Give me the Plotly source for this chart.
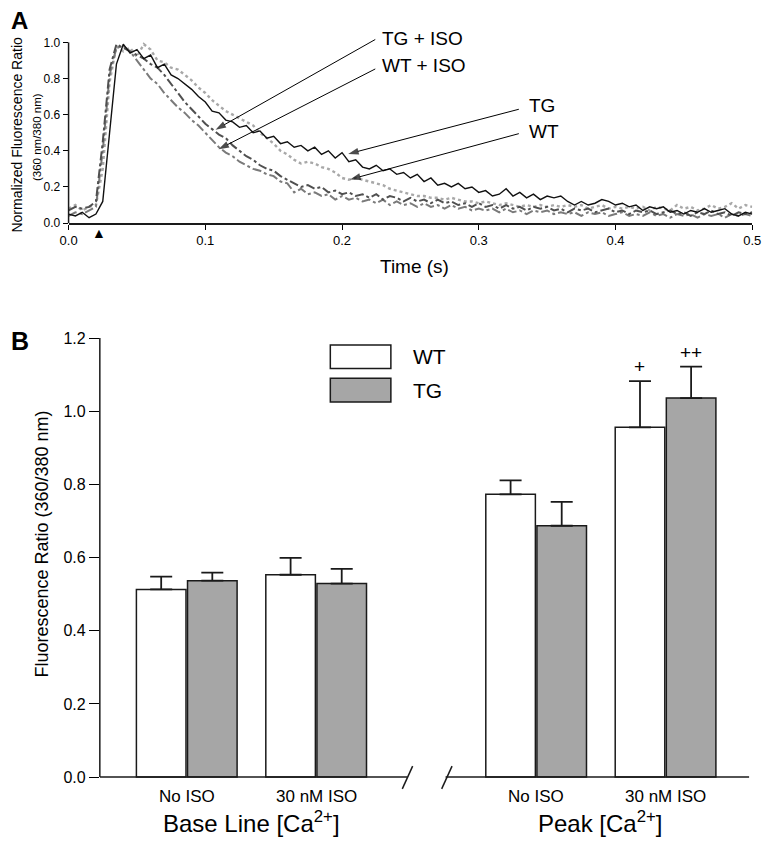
import plotly.graph_objects as go

# ---------------- Panel A data (normalized fluorescence ratio vs time) ----------------
TIME_S = [round(i * 0.005, 3) for i in range(101)]

TG = [0.05, 0.04, 0.06, 0.03, 0.05, 0.12, 0.50, 0.88, 0.99, 0.94,
      0.96, 0.91, 0.93, 0.86, 0.88, 0.82, 0.80, 0.77, 0.74, 0.70,
      0.67, 0.62, 0.61, 0.57, 0.56, 0.53, 0.54, 0.50, 0.51, 0.47,
      0.48, 0.44, 0.45, 0.42, 0.43, 0.40, 0.42, 0.38, 0.40, 0.36,
      0.39, 0.34, 0.35, 0.31, 0.30, 0.32, 0.29, 0.30, 0.27, 0.28,
      0.25, 0.27, 0.23, 0.25, 0.21, 0.22, 0.20, 0.22, 0.19, 0.20,
      0.17, 0.18, 0.15, 0.16, 0.19, 0.15, 0.17, 0.14, 0.16, 0.13,
      0.15, 0.14, 0.15, 0.12, 0.10, 0.12, 0.10, 0.11, 0.13, 0.12,
      0.10, 0.11, 0.09, 0.10, 0.07, 0.09, 0.08, 0.09, 0.06, 0.07,
      0.05, 0.07, 0.06, 0.08, 0.06, 0.07, 0.08, 0.05, 0.04, 0.06,
      0.05]

WT = [0.08, 0.10, 0.07, 0.09, 0.10, 0.30, 0.78, 0.98, 0.95, 0.97,
      0.92, 0.99, 0.96, 0.90, 0.89, 0.86, 0.85, 0.82, 0.79, 0.75,
      0.72, 0.68, 0.65, 0.62, 0.60, 0.58, 0.56, 0.54, 0.50, 0.47,
      0.44, 0.40, 0.38, 0.35, 0.33, 0.34, 0.33, 0.31, 0.30, 0.28,
      0.25, 0.24, 0.25, 0.24, 0.23, 0.22, 0.21, 0.19, 0.18, 0.17,
      0.16, 0.15, 0.15, 0.14, 0.14, 0.13, 0.14, 0.13, 0.12, 0.12,
      0.11, 0.12, 0.11, 0.10, 0.11, 0.10, 0.09, 0.10, 0.09, 0.10,
      0.09, 0.10, 0.09, 0.10, 0.09, 0.10, 0.08, 0.09, 0.10, 0.08,
      0.09, 0.08, 0.09, 0.08, 0.09, 0.07, 0.09, 0.08, 0.07, 0.10,
      0.08, 0.09, 0.07, 0.08, 0.10, 0.08, 0.09, 0.11, 0.08, 0.10,
      0.09]

TG_ISO = [0.07, 0.09, 0.08, 0.09, 0.12, 0.45, 0.85, 0.99, 0.97, 0.95,
          0.93, 0.91, 0.88, 0.86, 0.82, 0.77, 0.72, 0.67, 0.63, 0.59,
          0.55, 0.52, 0.49, 0.47, 0.43, 0.40, 0.37, 0.35, 0.32, 0.30,
          0.29, 0.26, 0.24, 0.22, 0.20, 0.21, 0.19, 0.20, 0.17, 0.18,
          0.16, 0.17, 0.15, 0.16, 0.14, 0.16, 0.13, 0.15, 0.14, 0.12,
          0.14, 0.12, 0.13, 0.11, 0.13, 0.11, 0.12, 0.10, 0.11, 0.09,
          0.11, 0.09, 0.10, 0.08, 0.10, 0.08, 0.09, 0.07, 0.09, 0.08,
          0.09, 0.07, 0.08, 0.06, 0.08, 0.07, 0.08, 0.06, 0.07, 0.08,
          0.06, 0.07, 0.05, 0.07, 0.06, 0.07, 0.05, 0.06, 0.07, 0.05,
          0.06, 0.04, 0.06, 0.05, 0.07, 0.05, 0.06, 0.04, 0.06, 0.05,
          0.06]

WT_ISO = [0.04, 0.06, 0.05, 0.07, 0.09, 0.40, 0.82, 0.97, 0.98, 0.95,
          0.90, 0.85, 0.80, 0.77, 0.72, 0.68, 0.64, 0.61, 0.57, 0.54,
          0.50, 0.46, 0.42, 0.39, 0.37, 0.34, 0.32, 0.30, 0.29, 0.27,
          0.26, 0.23, 0.22, 0.17, 0.19, 0.16, 0.17, 0.15, 0.16, 0.13,
          0.15, 0.13, 0.14, 0.12, 0.13, 0.11, 0.13, 0.10, 0.12, 0.10,
          0.11, 0.09, 0.11, 0.09, 0.10, 0.08, 0.10, 0.08, 0.09, 0.07,
          0.08, 0.07, 0.08, 0.06, 0.08, 0.06, 0.07, 0.05, 0.07, 0.06,
          0.07, 0.05, 0.06, 0.05, 0.06, 0.04, 0.06, 0.05, 0.06, 0.04,
          0.05, 0.06, 0.04, 0.05, 0.04, 0.06, 0.04, 0.05, 0.03, 0.05,
          0.04, 0.05, 0.03, 0.05, 0.04, 0.05, 0.03, 0.05, 0.04, 0.05,
          0.04]

A_XTICKS = [0.0, 0.1, 0.2, 0.3, 0.4, 0.5]
A_YTICKS = [0.0, 0.2, 0.4, 0.6, 0.8, 1.0]
STIM_TIME = 0.022

# ---------------- Panel B data (fluorescence ratio, mean + SEM) ----------------
GROUP_LABELS = ["No ISO", "30 nM ISO", "No ISO", "30 nM ISO"]
GROUP_POS = [0.0, 1.0, 2.7, 3.7]
SECTION_LABELS = ["Base Line [Ca<sup>2+</sup>]", "Peak [Ca<sup>2+</sup>]"]
WT_MEAN = [0.513, 0.553, 0.773, 0.956]
WT_SEM = [0.035, 0.046, 0.038, 0.126]
TG_MEAN = [0.537, 0.529, 0.687, 1.036]
TG_SEM = [0.022, 0.040, 0.065, 0.086]
WT_MARK = ["", "", "", "+"]
TG_MARK = ["", "", "", "++"]
B_YTICKS = [0.0, 0.2, 0.4, 0.6, 0.8, 1.0, 1.2]

assert all(len(s) == len(TIME_S) for s in (TG, WT, TG_ISO, WT_ISO))

# ---------------- layout helpers ----------------
W, H = 771, 846
FONT = "Liberation Sans, Arial, Helvetica, sans-serif"


def fx(p):
    return p / W


def fy(p):
    return 1 - p / H


# Panel A axes: x 0..0.5 over px 61..761; y 0..1 over px 219..35
A_YMAX = 1.03
A_Y0, A_Y1 = 219, 35
a_ytop_px = A_Y0 - (A_Y0 - A_Y1) * A_YMAX

# Panel B axes
B_X0PX, B_X1PX = 93, 758
B_UNIT = 132.5
B_ORIGIN_PX = 182
bx_lo = (B_X0PX - B_ORIGIN_PX) / B_UNIT
bx_hi = (B_X1PX - B_ORIGIN_PX) / B_UNIT
B_Y0PX, B_Y12PX = 783, 336
b_scale = (B_Y0PX - B_Y12PX) / 1.2
B_YMIN = -0.06
b_ybot_px = B_Y0PX - B_YMIN * b_scale

fig = go.Figure()

# ---------------- Panel A traces ----------------
fig.add_trace(go.Scatter(x=TIME_S, y=WT, mode="lines", name="WT",
                         line=dict(color="#a8a8a8", width=2.4, dash="dot"),
                         xaxis="x", yaxis="y"))
fig.add_trace(go.Scatter(x=TIME_S, y=WT_ISO, mode="lines", name="WT + ISO",
                         line=dict(color="#7a7a7a", width=2, dash="dashdot"),
                         xaxis="x", yaxis="y"))
fig.add_trace(go.Scatter(x=TIME_S, y=TG_ISO, mode="lines", name="TG + ISO",
                         line=dict(color="#505050", width=2, dash="dashdot"),
                         xaxis="x", yaxis="y"))
fig.add_trace(go.Scatter(x=TIME_S, y=TG, mode="lines", name="TG",
                         line=dict(color="#111111", width=1.4),
                         xaxis="x", yaxis="y"))

# Panel A labels with pointer arrows: (label, arrow head t, head y, tail t, tail y, text x, text y)
A_LABELS = [
    ("TG + ISO", 0.1075, 0.517, 0.2243, 1.016, 0.2279, 1.022),
    ("WT + ISO", 0.1097, 0.409, 0.2243, 0.853, 0.2279, 0.870),
    ("TG", 0.2045, 0.383, 0.3293, 0.630, 0.3350, 0.652),
    ("WT", 0.2059, 0.242, 0.3293, 0.495, 0.3350, 0.505),
]
for lab, hx, hy, tx, ty, lx, ly in A_LABELS:
    fig.add_trace(go.Scatter(x=[tx, hx], y=[ty, hy], mode="lines+markers",
                             name=lab + " pointer", hoverinfo="skip",
                             line=dict(color="black", width=1),
                             marker=dict(symbol=["circle", "arrow"], size=[0, 11],
                                         color="black", angleref="previous",
                                         line=dict(width=0)),
                             cliponaxis=False, xaxis="x", yaxis="y"))

# ---------------- Panel B bars ----------------
fig.add_trace(go.Bar(x=GROUP_POS, y=WT_MEAN, name="WT", xaxis="x2", yaxis="y2",
                     marker=dict(color="white", line=dict(color="#1a1a1a", width=1.5)),
                     error_y=dict(type="data", symmetric=False, array=WT_SEM,
                                  arrayminus=[0] * len(WT_SEM), color="#1a1a1a",
                                  thickness=1.8, width=11)))
fig.add_trace(go.Bar(x=GROUP_POS, y=TG_MEAN, name="TG", xaxis="x2", yaxis="y2",
                     marker=dict(color="#a6a6a6", line=dict(color="#1a1a1a", width=1.5)),
                     error_y=dict(type="data", symmetric=False, array=TG_SEM,
                                  arrayminus=[0] * len(TG_SEM), color="#1a1a1a",
                                  thickness=1.8, width=11)))

shapes = []
annotations = []

# Panel A y axis line
shapes.append(dict(type="line", xref="paper", yref="paper",
                   x0=fx(61), x1=fx(61), y0=fy(A_Y0), y1=fy(A_Y1),
                   line=dict(color="#1a1a1a", width=1.5)))

# Panel A stimulus marker
annotations.append(dict(x=STIM_TIME, xref="x", y=fy(229), yref="paper", text="▲",
                        showarrow=False, font=dict(size=14, color="black", family=FONT),
                        xanchor="center", yanchor="middle"))

for lab, hx, hy, tx, ty, lx, ly in A_LABELS:
    annotations.append(dict(x=lx, y=ly, xref="x", yref="y", text=lab, showarrow=False,
                            xanchor="left", yanchor="middle",
                            font=dict(size=19, color="black", family=FONT)))

# Panel A titles
annotations.append(dict(x=fx(415), y=fy(250), xref="paper", yref="paper", text="Time (s)",
                        showarrow=False, font=dict(size=19, color="black", family=FONT)))
annotations.append(dict(x=fx(8), y=fy(129), xref="paper", yref="paper",
                        text="Normalized Fluorescence Ratio", textangle=-90,
                        showarrow=False, xanchor="center", yanchor="middle",
                        font=dict(size=14, color="black", family=FONT)))
annotations.append(dict(x=fx(28), y=fy(131), xref="paper", yref="paper",
                        text="(360 nm/380 nm)", textangle=-90,
                        showarrow=False, xanchor="center", yanchor="middle",
                        font=dict(size=11.5, color="black", family=FONT)))
annotations.append(dict(x=fx(0), y=fy(13), xref="paper", yref="paper", text="<b>A</b>",
                        showarrow=False, xanchor="left", yanchor="middle",
                        font=dict(size=24, color="black", family=FONT)))
annotations.append(dict(x=fx(0), y=fy(339), xref="paper", yref="paper", text="<b>B</b>",
                        showarrow=False, xanchor="left", yanchor="middle",
                        font=dict(size=25, color="black", family=FONT)))

# Panel B axis lines (broken x axis)
shapes.append(dict(type="line", xref="paper", yref="paper",
                   x0=fx(B_X0PX), x1=fx(B_X0PX), y0=fy(B_Y0PX), y1=fy(B_Y12PX),
                   line=dict(color="#1a1a1a", width=1.5)))
brk_a = (408 - B_ORIGIN_PX) / B_UNIT
brk_b = (447 - B_ORIGIN_PX) / B_UNIT
shapes.append(dict(type="line", xref="x2", yref="y2", x0=bx_lo, x1=brk_a, y0=0, y1=0,
                   line=dict(color="#1a1a1a", width=1.5)))
shapes.append(dict(type="line", xref="x2", yref="y2", x0=brk_b, x1=bx_hi, y0=0, y1=0,
                   line=dict(color="#1a1a1a", width=1.5)))
for sx in (brk_a, brk_b + 0.01):
    shapes.append(dict(type="line", xref="x2", yref="y2",
                       x0=sx - 0.04, x1=sx + 0.04, y0=-0.032, y1=0.03,
                       line=dict(color="#1a1a1a", width=1.5)))

# Panel B significance marks
off = 0.1975
for pos, m, s, mk in zip(GROUP_POS, WT_MEAN, WT_SEM, WT_MARK):
    if mk:
        annotations.append(dict(x=pos - off, y=m + s, xref="x2", yref="y2", text=mk,
                                showarrow=False, yanchor="bottom", yshift=2,
                                font=dict(size=19, color="black", family=FONT)))
for pos, m, s, mk in zip(GROUP_POS, TG_MEAN, TG_SEM, TG_MARK):
    if mk:
        annotations.append(dict(x=pos + off, y=m + s, xref="x2", yref="y2", text=mk,
                                showarrow=False, yanchor="bottom", yshift=2,
                                font=dict(size=19, color="black", family=FONT)))

# Panel B category labels
for pos, lab in zip(GROUP_POS, GROUP_LABELS):
    annotations.append(dict(x=pos, y=fy(803), xref="x2", yref="paper", text=lab,
                            showarrow=False, yanchor="middle",
                            font=dict(size=17, color="black", family=FONT)))
sec_pos = [(GROUP_POS[0] + GROUP_POS[1]) / 2, (GROUP_POS[2] + GROUP_POS[3]) / 2]
for pos, lab in zip(sec_pos, SECTION_LABELS):
    annotations.append(dict(x=pos, y=fy(829), xref="x2", yref="paper", text=lab,
                            showarrow=False, yanchor="middle",
                            font=dict(size=24, color="black", family=FONT)))

annotations.append(dict(x=fx(34), y=fy(546), xref="paper", yref="paper",
                        text="Fluorescence Ratio (360/380 nm)", textangle=-90,
                        showarrow=False, xanchor="center", yanchor="middle",
                        font=dict(size=18, color="black", family=FONT)))

# Panel B legend
for (y0, y1, col, lab) in [(343, 367, "white", "WT"), (377, 401, "#a6a6a6", "TG")]:
    shapes.append(dict(type="rect", xref="paper", yref="paper",
                       x0=fx(329), x1=fx(391), y0=fy(y1), y1=fy(y0),
                       fillcolor=col, line=dict(color="#1a1a1a", width=1.5)))
    annotations.append(dict(x=fx(412), y=fy((y0 + y1) / 2), xref="paper", yref="paper",
                            text=lab, showarrow=False, xanchor="left", yanchor="middle",
                            font=dict(size=21, color="black", family=FONT)))

fig.update_layout(
    width=W, height=H,
    margin=dict(l=0, r=0, t=0, b=0),
    paper_bgcolor="white", plot_bgcolor="white",
    showlegend=False,
    font=dict(family=FONT, color="black"),
    barmode="group", bargap=0.21, bargroupgap=0.03,
    xaxis=dict(domain=[fx(61), fx(761)], range=[0, 0.5], anchor="y",
               tickvals=A_XTICKS, tickformat=".1f", ticks="outside", ticklen=5,
               tickwidth=1.2, tickcolor="black", showline=True, linecolor="#1a1a1a",
               linewidth=1.5, showgrid=False, zeroline=False,
               tickfont=dict(size=13, family=FONT, color="black")),
    yaxis=dict(domain=[fy(A_Y0), fy(a_ytop_px)], range=[0, A_YMAX], anchor="x",
               tickvals=A_YTICKS, tickformat=".1f", ticks="outside", ticklen=5,
               tickwidth=1.2, tickcolor="black", showline=False, showgrid=False,
               zeroline=False, tickfont=dict(size=12, family=FONT, color="black")),
    xaxis2=dict(domain=[fx(B_X0PX), fx(B_X1PX)], range=[bx_lo, bx_hi], anchor="y2",
                showticklabels=False, ticks="", showline=False, showgrid=False,
                zeroline=False),
    yaxis2=dict(domain=[fy(b_ybot_px), fy(B_Y12PX)], range=[B_YMIN, 1.2], anchor="x2",
                tickvals=B_YTICKS, tickformat=".1f", ticks="outside", ticklen=10,
                tickwidth=1.2, tickcolor="black", showline=False, showgrid=False,
                zeroline=False, tickfont=dict(size=16, family=FONT, color="black")),
    shapes=shapes,
    annotations=annotations,
)

fig.write_html("out.html", config={"displayModeBar": False},
               post_script="document.body.style.margin='0';"
                           "document.body.style.overflow='hidden';")
